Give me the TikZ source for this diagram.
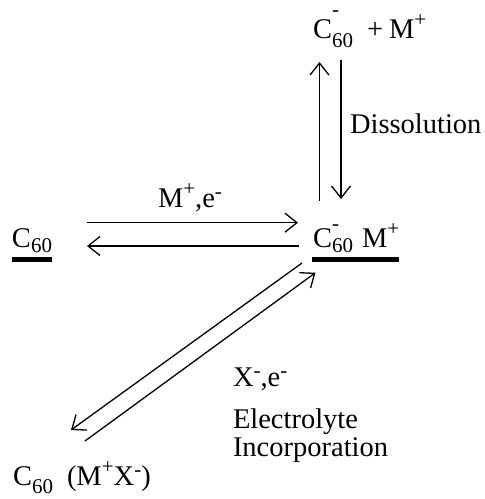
\documentclass[tikz,border=0pt]{standalone}
\usepackage{fontspec}
\setmainfont{Liberation Serif}
\usetikzlibrary{arrows.meta}
\newcommand\ssub[2][7pt]{\raisebox{-#1}{\fontsize{21}{21}\selectfont #2}}
\newcommand\ssup[2][11pt]{\raisebox{#1}{\fontsize{21}{21}\selectfont #2}}
\newcommand\cneg[2]{C\rlap{\raisebox{#2}{\fontsize{21}{21}\selectfont -}}\ssub[#1]{60}}
\tikzset{
  lbl/.style={anchor=base west, inner sep=0pt, outer sep=0pt, font=\fontsize{28.5}{23}\selectfont},
  rxn/.style={line width=1.3pt, -{Straight Barb[length=12pt,width=19pt,line width=1.3pt]}},
  uline/.style={line width=5.5pt}
}
\begin{document}
\begin{tikzpicture}[x=1pt,y=-1pt]
\fill[white] (0,0) rectangle (485,499);
\useasboundingbox (0,0) rectangle (485,499);
% nodes
\node[lbl] (top) at (313,38) {\cneg{9pt}{22pt}\hspace{14pt}+\hspace{6pt}M\ssup[12pt]{+}};
\node[lbl] (diss) at (350,133) {Dissolution};
\node[lbl] (mlab) at (158,207) {M\ssup[12pt]{+},e\ssup[9pt]{-}};
\node[lbl] (left) at (12,247) {C\ssub[5pt]{60}};
\node[lbl] (mid) at (313,247) {\cneg{5pt}{17pt}\hspace{9pt}M\ssup[12pt]{+}};
\node[lbl] (xlab) at (233,386) {X\ssup[9pt]{-},e\ssup[9pt]{-}};
\node[lbl] (elec) at (233,428) {Electrolyte};
\node[lbl] (inc) at (233,456) {Incorporation};
\node[lbl] (bot) at (13,485) {C\ssub[8pt]{60}\hspace{14pt}(M\ssup[12pt]{+}X\ssup[9pt]{-})};
% underlines
\draw[uline] ([yshift=-12.5pt]left.base west) -- ([yshift=-12.5pt]left.base east);
\draw[uline] ([xshift=-1pt,yshift=-12.5pt]mid.base west) -- ([yshift=-12.5pt]mid.base east);
% arrow end points
\coordinate (h1s) at (87,222.7);
\coordinate (h1e) at (298,222.7);
\coordinate (h2s) at (299,246);
\coordinate (h2e) at (87,246);
\coordinate (v1s) at (319.5,201);
\coordinate (v1e) at (319.5,62);
\coordinate (v2s) at (341,60);
\coordinate (v2e) at (341,199);
\coordinate (d1s) at (302,263);
\coordinate (d1e) at (71,430);
\coordinate (d2s) at (85,441);
\coordinate (d2e) at (315.5,272.7);
\draw[rxn] (h1s) -- (h1e);
\draw[rxn] (h2s) -- (h2e);
\draw[rxn] (v1s) -- (v1e);
\draw[rxn] (v2s) -- (v2e);
\draw[rxn] (d1s) -- (d1e);
\draw[rxn] (d2s) -- (d2e);
\end{tikzpicture}
\end{document}
